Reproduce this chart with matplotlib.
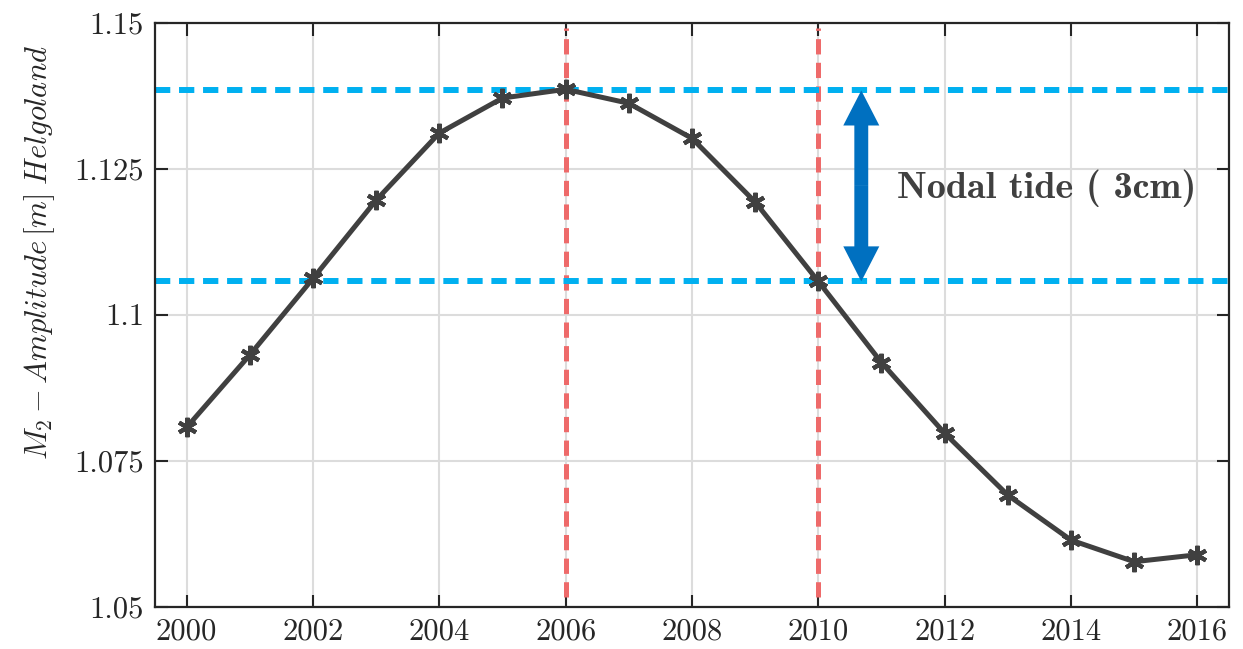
import matplotlib
matplotlib.use("Agg")
import matplotlib.pyplot as plt
import numpy as np

# M2 amplitude Helgoland
years = [2000, 2001, 2002, 2003, 2004, 2005, 2006, 2007, 2008,
         2009, 2010, 2011, 2012, 2013, 2014, 2015, 2016]
amp = [1.0807, 1.0931, 1.1062, 1.1196, 1.1311, 1.1371, 1.1386, 1.1362, 1.1302,
       1.1193, 1.1057, 1.0918, 1.0797, 1.0691, 1.0614, 1.0577, 1.0589]

# nodal tide range (horizontal lines) and marked years (vertical lines)
amp_max = 1.1384
amp_min = 1.1057
marked_years = [2006, 2010]

xticks = [2000, 2002, 2004, 2006, 2008, 2010, 2012, 2014, 2016]
yticks = [1.05, 1.075, 1.1, 1.125, 1.15]
ytick_labels = ['1.05', '1.075', '1.1', '1.125', '1.15']

plt.rcParams['font.family'] = 'cmr10'
plt.rcParams['mathtext.fontset'] = 'cm'
plt.rcParams['axes.formatter.use_mathtext'] = True
plt.rcParams['lines.scale_dashes'] = False

fig = plt.figure(figsize=(12.43, 6.49), dpi=100)
ax = fig.add_axes([0.1247, 0.0652, 0.8640, 0.8998])

dark = '#404040'
blue = '#00B0F0'
red = '#EE6A6A'
arrow_col = '#0070C0'

ax.grid(True, color='#dcdcdc', linewidth=1.5)
ax.set_axisbelow(True)

# dashed guide lines
for yr in marked_years:
    ax.plot([yr, yr], [1.0517, 1.1491], color=red, lw=3.6,
            linestyle=(0, (11, 6)), zorder=2)
for lev in [amp_max, amp_min]:
    ax.axhline(lev, color=blue, lw=4.3, linestyle=(0, (11, 6.3)), zorder=2)

# data curve
ax.plot(years, amp, color=dark, lw=3.6, marker=(6, 2, 0), markersize=14,
        markeredgewidth=3, markeredgecolor=dark, zorder=3)

# double-headed arrow, drawn as two halves from the middle
ax_x = 2010.68
mid = (amp_max + amp_min) / 2
for tip in [amp_max, amp_min]:
    ax.arrow(ax_x, mid, 0, tip - mid, width=0.22, head_width=0.57,
             head_length=0.006, length_includes_head=True, lw=0,
             color=arrow_col, zorder=4)

ax.text(2011.25, 1.1217, 'Nodal tide ( 3cm)', family='cmb10', fontsize=27.5,
        color=dark, ha='left', va='center')

ax.set_xlim(1999.5, 2016.5)
ax.set_ylim(1.05, 1.15)
ax.set_xticks(xticks)
ax.set_xticklabels([str(t) for t in xticks])
ax.set_yticks(yticks)
ax.set_yticklabels(ytick_labels)
ax.tick_params(direction='in', length=9, width=1.5, colors='#262626',
               labelsize=22, top=True, right=True, pad=8)
for s in ax.spines.values():
    s.set_linewidth(1.6)
    s.set_color('#262626')

ax.set_ylabel(r'$M_2 - Amplitude\,[m]\;Helgoland$', fontsize=22,
              color='#262626')
ax.yaxis.set_label_coords(-0.091, 0.607)

fig.savefig('out.png', dpi=100)
